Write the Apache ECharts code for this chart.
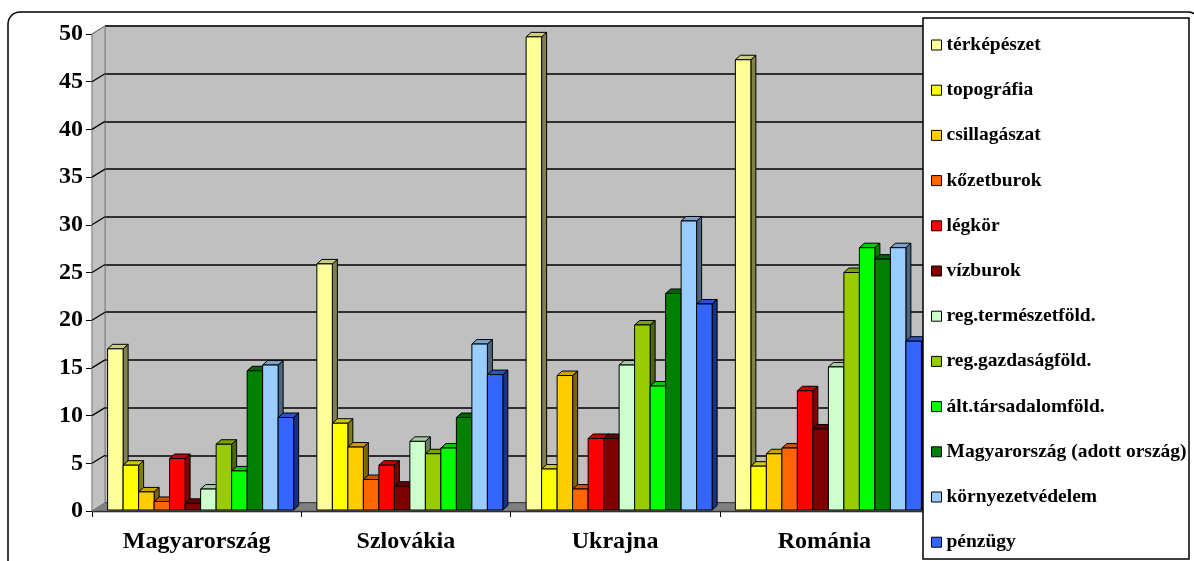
<!DOCTYPE html>
<html>
<head>
<meta charset="utf-8">
<title>Földrajzi témakörök országonként</title>
<script src="https://cdn.jsdelivr.net/npm/echarts@6/dist/echarts.min.js"></script>
<style>
  html, body { margin: 0; padding: 0; background: #fff; }
  #chart { width: 1194px; height: 561px; }
</style>
</head>
<body>
<div id="chart"></div>
<script>
// Countries on the category axis
const categories = ['Magyarország', 'Szlovákia', 'Ukrajna', 'Románia'];

// Value axis ticks
const yTicks = [0, 5, 10, 15, 20, 25, 30, 35, 40, 45, 50];

// Topic names (legend order) and their colours
const subjects = [
  'térképészet', 'topográfia', 'csillagászat', 'kőzetburok', 'légkör', 'vízburok',
  'reg.természetföld.', 'reg.gazdaságföld.', 'ált.társadalomföld.',
  'Magyarország (adott ország)', 'környezetvédelem', 'pénzügy'
];
const colors = [
  '#FFFF99', '#FFFF00', '#FFCC00', '#FF6600', '#FF0000', '#800000',
  '#CCFFCC', '#99CC00', '#00FF00', '#008000', '#99CCFF', '#3366FF'
];

// Values per topic, one per country
const terkepeszet   = [17.0, 25.9, 49.7, 47.3];
const topografia    = [4.8, 9.2, 4.4, 4.7];
const csillagaszat  = [2.0, 6.7, 14.2, 6.0];
const kozetburok    = [1.0, 3.3, 2.3, 6.6];
const legkor        = [5.5, 4.8, 7.6, 12.6];
const vizburok      = [0.8, 2.6, 7.6, 8.6];
const regTermeszet  = [2.3, 7.3, 15.3, 15.1];
const regGazdasag   = [7.0, 6.0, 19.5, 25.0];
const altTarsadalom = [4.2, 6.6, 13.1, 27.6];
const adottOrszag   = [14.7, 9.8, 22.8, 26.4];
const kornyezet     = [15.3, 17.5, 30.4, 27.6];
const penzugy       = [9.8, 14.3, 21.7, 17.8];

const seriesValues = [
  terkepeszet, topografia, csillagaszat, kozetburok, legkor, vizburok,
  regTermeszet, regGazdasag, altTarsadalom, adottOrszag, kornyezet, penzugy
];

// Depth of the box (back wall offset) and of each column
const WALL_DX = 13, WALL_DY = -8;
const BAR_DX = 5, BAR_DY = -4.5;
const GROUP_RATIO = 0.889;
const GROUP_SHIFT = 4;

function shade(hex, f) {
  const n = parseInt(hex.slice(1), 16);
  const r = Math.round(((n >> 16) & 255) * f);
  const g = Math.round(((n >> 8) & 255) * f);
  const b = Math.round((n & 255) * f);
  return 'rgb(' + r + ',' + g + ',' + b + ')';
}

const FONT = '"Liberation Serif", "Times New Roman", serif';

// Side wall + floor of the 3D box
const boxSeries = {
  type: 'custom',
  name: '__box',
  xAxisIndex: 0,
  yAxisIndex: 0,
  z: 1,
  silent: true,
  data: [[0, 0]],
  renderItem: function (params, api) {
    const cs = params.coordSys;
    const x0 = cs.x, x1 = cs.x + cs.width;
    const yTop = api.coord([0, 50])[1];
    const yBase = api.coord([0, 0])[1];
    const children = [];
    // left side wall
    children.push({
      type: 'polygon',
      shape: { points: [[x0, yBase], [x0, yTop], [x0 + WALL_DX, yTop + WALL_DY], [x0 + WALL_DX, yBase + WALL_DY]] },
      style: { fill: '#C0C0C0', stroke: '#808080', lineWidth: 1 }
    });
    // floor
    children.push({
      type: 'polygon',
      shape: { points: [[x0, yBase], [x1, yBase], [x1 + WALL_DX, yBase + WALL_DY], [x0 + WALL_DX, yBase + WALL_DY]] },
      style: { fill: '#808080', stroke: '#606060', lineWidth: 1 }
    });
    // grid lines running across the side wall
    yTicks.forEach(function (v) {
      const y = api.coord([0, v])[1];
      children.push({
        type: 'line',
        shape: { x1: x0, y1: y, x2: x0 + WALL_DX, y2: y + WALL_DY },
        style: { stroke: v === 0 || v === 50 ? '#808080' : '#000', lineWidth: 1.3 }
      });
    });
    return { type: 'group', children: children };
  }
};

// One 3D column series per topic
const barSeries = subjects.map(function (name, idx) {
  const col = colors[idx];
  return {
    type: 'custom',
    name: name,
    xAxisIndex: 0,
    yAxisIndex: 0,
    z: 2,
    itemStyle: { color: col, borderColor: '#000', borderWidth: 1 },
    data: seriesValues[idx].map(function (v, i) { return [i, v]; }),
    renderItem: function (params, api) {
      const top = api.coord([api.value(0), api.value(1)]);
      const base = api.coord([api.value(0), 0]);
      const band = api.size([1, 0])[0];
      const groupW = band * GROUP_RATIO;
      const w = groupW / subjects.length;
      const x = top[0] - groupW / 2 + idx * w + GROUP_SHIFT;
      const y = top[1];
      const yb = base[1] - 1;
      const stroke = { stroke: '#000', lineWidth: 1 };
      return {
        type: 'group',
        children: [
          {
            type: 'polygon',
            shape: { points: [[x + w, y], [x + w + BAR_DX, y + BAR_DY], [x + w + BAR_DX, yb + BAR_DY], [x + w, yb]] },
            style: Object.assign({ fill: shade(col, 0.5) }, stroke)
          },
          {
            type: 'polygon',
            shape: { points: [[x, y], [x + w, y], [x + w + BAR_DX, y + BAR_DY], [x + BAR_DX, y + BAR_DY]] },
            style: Object.assign({ fill: shade(col, 0.8) }, stroke)
          },
          {
            type: 'rect',
            shape: { x: x, y: y, width: w, height: yb - y },
            style: Object.assign({ fill: col }, stroke)
          }
        ]
      };
    }
  };
});

const chart = echarts.init(document.getElementById('chart'), null, { renderer: 'canvas' });

chart.setOption({
  animation: false,
  backgroundColor: '#fff',
  grid: [
    // front plane: bars and axes
    { left: 92, right: 265, top: 34, bottom: 50 },
    // back wall
    { left: 92 + WALL_DX, right: 265 - WALL_DX, top: 34 + WALL_DY, bottom: 50 - WALL_DY,
      show: true, backgroundColor: '#C0C0C0', borderColor: '#808080', borderWidth: 1 }
  ],
  xAxis: [
    {
      type: 'category', gridIndex: 0, data: categories,
      axisLine: { lineStyle: { color: '#000', width: 1.3 } },
      axisTick: { show: true, length: 6, lineStyle: { color: '#000' } },
      axisLabel: { color: '#000', fontFamily: FONT, fontWeight: 'bold', fontSize: 24, margin: 19 }
    },
    {
      type: 'category', gridIndex: 1, data: categories, show: false
    }
  ],
  yAxis: [
    {
      type: 'value', gridIndex: 0, min: 0, max: 50, interval: 5,
      axisLine: { show: true, lineStyle: { color: '#000', width: 1.3 } },
      axisTick: { show: true, length: 6, lineStyle: { color: '#000' } },
      splitLine: { show: false },
      axisLabel: { color: '#000', fontFamily: FONT, fontWeight: 'bold', fontSize: 24, margin: 9 }
    },
    {
      type: 'value', gridIndex: 1, min: 0, max: 50, interval: 5,
      axisLine: { show: false }, axisTick: { show: false }, axisLabel: { show: false },
      splitLine: { show: true, lineStyle: { color: '#000', width: 1.5 } }
    }
  ],
  legend: {
    data: subjects,
    orient: 'vertical',
    left: 931,
    top: 35,
    height: 545,
    padding: 0,
    z: 20,
    itemWidth: 10,
    itemHeight: 10,
    itemGap: 25.2,
    icon: 'rect',
    itemStyle: { borderColor: '#000', borderWidth: 1 },
    textStyle: { color: '#000', fontFamily: FONT, fontWeight: 'bold', fontSize: 19.5, lineHeight: 17 }
  },
  graphic: [
    {
      type: 'rect', z: 0, silent: true,
      shape: { x: 8, y: 12, width: 1192, height: 562, r: 12 },
      style: { fill: 'none', stroke: '#000', lineWidth: 1.5 }
    },
    {
      type: 'rect', z: 10, silent: true,
      shape: { x: 923, y: 18, width: 266, height: 541 },
      style: { fill: '#fff', stroke: '#000', lineWidth: 1.5 }
    }
  ],
  series: [boxSeries].concat(barSeries)
});
</script>
</body>
</html>
